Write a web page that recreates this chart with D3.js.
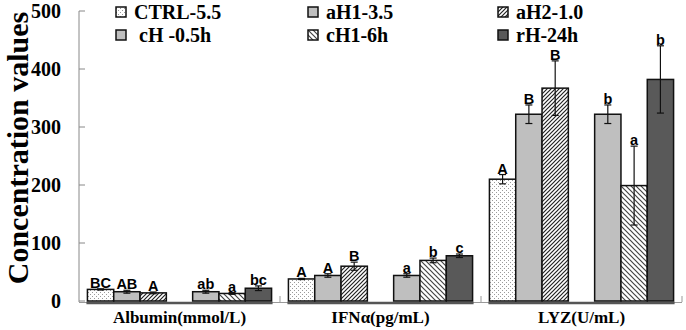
<!DOCTYPE html>
<html>
<head>
<meta charset="utf-8">
<script src="https://cdn.jsdelivr.net/npm/d3@7/dist/d3.min.js"></script>
<style>
  body { margin: 0; background: #fff; }
  svg { display: block; }
  .serif { font-family: "Liberation Serif", "Times New Roman", serif; font-weight: bold; }
  .sig { font-family: "Liberation Sans", Arial, sans-serif; font-weight: bold; }
</style>
</head>
<body>
<svg id="chart" width="686" height="330"></svg>
<script>
// categories and series
const categories = ['Albumin(mmol/L)', 'IFNα(pg/mL)', 'LYZ(U/mL)']
const seriesNames = ['CTRL-5.5', 'aH1-3.5', 'aH2-1.0', ' cH -0.5h', 'cH1-6h', 'rH-24h']
const seriesSlot = [0, 1, 2, 4, 5, 6] // slot 3 stays empty (gap between the two sets)

// values per category, in series order
const albuminValues = [20, 16, 14, 16, 13, 22]
const albuminErrors = [1, 2.5, 1.5, 2.5, 1.5, 4]
const albuminLetters = ['BC', 'AB', 'A', 'ab', 'a', 'bc']

const ifnValues = [38, 44, 60, 44, 70, 78]
const ifnErrors = [1, 3, 7, 3, 4, 3]
const ifnLetters = ['A', 'A', 'B', 'a', 'b', 'c']

const lyzValues = [210, 322, 367, 322, 199, 382]
const lyzErrors = [8, 16, 47, 16, 68, 58]
const lyzLetters = ['A', 'B', 'B', 'b', 'a', 'b']

const yTicks = [0, 100, 200, 300, 400, 500]

const valueRows = [albuminValues, ifnValues, lyzValues]
const errorRows = [albuminErrors, ifnErrors, lyzErrors]
const letterRows = [albuminLetters, ifnLetters, lyzLetters]

const svg = d3.select('#chart')

// patterns
const defs = svg.append('defs')
const dots = defs.append('pattern').attr('id', 'p-dots')
  .attr('patternUnits', 'userSpaceOnUse').attr('width', 4).attr('height', 4)
dots.append('rect').attr('width', 4).attr('height', 4).attr('fill', '#fff')
dots.append('rect').attr('x', 0).attr('y', 0).attr('width', 1).attr('height', 1).attr('fill', '#9a9a9a')
dots.append('rect').attr('x', 2).attr('y', 2).attr('width', 1).attr('height', 1).attr('fill', '#9a9a9a')

const fwd = defs.append('pattern').attr('id', 'p-fwd')
  .attr('patternUnits', 'userSpaceOnUse').attr('width', 4).attr('height', 4)
fwd.append('rect').attr('width', 4).attr('height', 4).attr('fill', '#fff')
fwd.append('path').attr('d', 'M-1,1 l2,-2 M0,4 l4,-4 M3,5 l2,-2')
  .attr('stroke', '#222').attr('stroke-width', 1.2)

const back = defs.append('pattern').attr('id', 'p-back')
  .attr('patternUnits', 'userSpaceOnUse').attr('width', 5).attr('height', 5)
back.append('rect').attr('width', 5).attr('height', 5).attr('fill', '#fff')
back.append('path').attr('d', 'M-1,4 l2,2 M0,0 l5,5 M4,-1 l2,2')
  .attr('stroke', '#444').attr('stroke-width', 1.2)

const fills = ['url(#p-dots)', '#bfbfbf', 'url(#p-fwd)', '#bfbfbf', 'url(#p-back)', '#595959']

// scales
const y = d3.scaleLinear().domain([0, 500]).range([301, 11])
const x0 = d3.scaleBand().domain(categories).range([79, 682]).padding(0)
const x1 = d3.scaleBand().domain(d3.range(7)).range([0, x0.bandwidth()])
  .paddingInner(0).paddingOuter(0.32)

// y axis
const yAxis = svg.append('g')
yAxis.append('line').attr('x1', 79).attr('x2', 79).attr('y1', y(500)).attr('y2', 302)
  .attr('stroke', '#888').attr('stroke-width', 1)
yAxis.selectAll('.tk').data(yTicks).join('line')
  .attr('x1', 79).attr('x2', 85).attr('y1', d => y(d)).attr('y2', d => y(d))
  .attr('stroke', '#888')
yAxis.selectAll('text').data(yTicks).join('text')
  .attr('class', 'serif')
  .attr('x', 61).attr('y', d => y(d)).attr('dy', '0.35em')
  .attr('text-anchor', 'end').attr('font-size', 20)
  .text(d => d)

svg.append('text').attr('class', 'serif')
  .attr('transform', `translate(28,${(y(500) + y(0)) / 2 - 8}) rotate(-90)`)
  .attr('text-anchor', 'middle').attr('font-size', 30)
  .text('Concentration values')

// x axis
const xAxis = svg.append('g')
xAxis.append('line').attr('x1', 79).attr('x2', 682).attr('y1', 302.5).attr('y2', 302.5)
  .attr('stroke', '#999')
xAxis.selectAll('.tk').data(categories).join('line')
  .attr('x1', d => x0(d) + x0.bandwidth()).attr('x2', d => x0(d) + x0.bandwidth())
  .attr('y1', 296).attr('y2', 302).attr('stroke', '#999')
xAxis.selectAll('.seg').data(categories).join('line')
  .attr('x1', d => x0(d) + x1(0) - 1).attr('x2', d => x0(d) + x1(6) + x1.bandwidth() + 1)
  .attr('y1', 303).attr('y2', 303).attr('stroke', '#555').attr('stroke-width', 2.5)
xAxis.selectAll('text').data(categories).join('text')
  .attr('class', 'serif')
  .attr('x', d => x0(d) + x0.bandwidth() / 2).attr('y', 323)
  .attr('text-anchor', 'middle').attr('font-size', 17)
  .text(d => d)

// bars
const barData = []
categories.forEach((c, ci) => {
  seriesNames.forEach((s, si) => {
    barData.push({
      cat: c, si, value: valueRows[ci][si], err: errorRows[ci][si], letter: letterRows[ci][si]
    })
  })
})

const bx = d => x0(d.cat) + x1(seriesSlot[d.si])
const bw = x1.bandwidth()

svg.append('g').selectAll('rect').data(barData).join('rect')
  .attr('x', bx).attr('y', d => y(d.value))
  .attr('width', bw).attr('height', d => y(0) - y(d.value))
  .attr('fill', d => fills[d.si])
  .attr('stroke', '#111').attr('stroke-width', 1.5)

// error bars
const eb = svg.append('g').attr('stroke', '#111').attr('stroke-width', 1.2)
eb.selectAll('.v').data(barData).join('line')
  .attr('x1', d => bx(d) + bw / 2).attr('x2', d => bx(d) + bw / 2)
  .attr('y1', d => y(d.value + d.err)).attr('y2', d => y(Math.max(0, d.value - d.err)))
eb.selectAll('.t').data(barData).join('line')
  .attr('x1', d => bx(d) + bw / 2 - 3.5).attr('x2', d => bx(d) + bw / 2 + 3.5)
  .attr('y1', d => y(d.value + d.err)).attr('y2', d => y(d.value + d.err))
eb.selectAll('.b').data(barData).join('line')
  .attr('x1', d => bx(d) + bw / 2 - 3.5).attr('x2', d => bx(d) + bw / 2 + 3.5)
  .attr('y1', d => y(Math.max(0, d.value - d.err))).attr('y2', d => y(Math.max(0, d.value - d.err)))

// significance letters
svg.append('g').selectAll('text').data(barData).join('text')
  .attr('class', 'sig')
  .attr('x', d => bx(d) + bw / 2).attr('y', d => y(d.value + d.err) - 1)
  .attr('text-anchor', 'middle').attr('font-size', 14.5)
  .text(d => d.letter)

// legend
const legCols = [116, 308, 498]
const legRows = [12, 35]
const leg = svg.append('g').selectAll('g').data(seriesNames).join('g')
  .attr('transform', (d, i) => `translate(${legCols[i % 3]},${legRows[Math.floor(i / 3)]})`)
leg.append('rect').attr('x', 0).attr('y', -5).attr('width', 10).attr('height', 10)
  .attr('fill', (d, i) => fills[i]).attr('stroke', '#111').attr('stroke-width', 1.5)
leg.append('text').attr('class', 'serif')
  .attr('x', 18).attr('y', 0).attr('dy', '0.35em')
  .attr('font-size', 20).style('white-space', 'pre')
  .text(d => d)
</script>
</body>
</html>
